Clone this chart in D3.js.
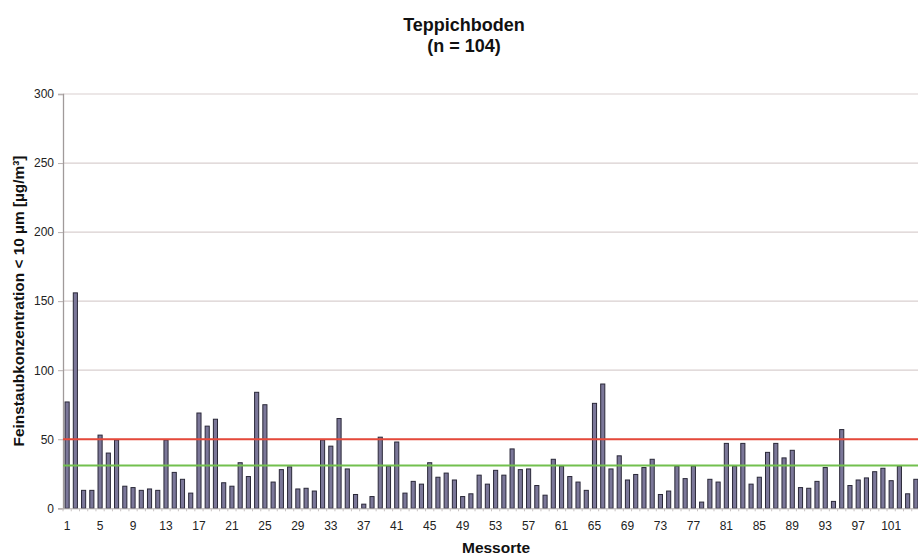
<!DOCTYPE html>
<html><head><meta charset="utf-8">
<script src="https://cdn.jsdelivr.net/npm/d3@7"></script>
<style>
html,body{margin:0;padding:0;background:#fff;}
svg{display:block;font-family:"Liberation Sans",Arial,sans-serif;}
</style></head>
<body>
<svg id="c" width="918" height="556"></svg>
<script>
const title = "Teppichboden";
const subtitle = "(n = 104)";
const yTitle = "Feinstaubkonzentration < 10 µm [µg/m³]";
const xTitle = "Messorte";
const categories = d3.range(1, 105);
const values = [
 77,156,13,13,53,40,49.5,16,15,13,14,13,49.5,26,21,11,69,59.5,64.5,18.5,
 16,33,23,84,75,19,28,30,14,14.5,12.5,49.5,45,65,28.5,10,3,8.5,51.5,30.5,
 48,11,19.5,17.5,33,22.5,25.5,20.5,8.5,10.5,24,17.5,27.5,24,43,28,28.5,16.5,9.5,35.5,
 30.5,23,19,13,76,90,28.5,38,20.5,24.5,29.5,35.5,10,12.5,30.5,21.5,30.5,4.5,21,19,
 47,30.5,47,17.5,22.5,40.5,47,36.5,42,15,14.5,19.5,29.5,5,57,16.5,20.5,22,26.5,29,
 20,30.5,10.5,21
];
const yTicks = [0, 50, 100, 150, 200, 250, 300];
const redLine = 50;
const greenLine = 31;

const svg = d3.select("#c");
const mLeft = 63, mRight = 920, mTop = 94, mBottom = 508.3;

const x = d3.scaleBand().domain(categories).range([mLeft, mRight]).paddingInner(0.5).paddingOuter(0.25);
const y = d3.scaleLinear().domain([0, 300]).range([mBottom, mTop]);

// gridlines
svg.append("g").selectAll("line").data(yTicks.filter(d => d > 0)).join("line")
  .attr("x1", mLeft).attr("x2", mRight)
  .attr("y1", d => y(d)).attr("y2", d => y(d))
  .attr("stroke", "#d9cfcf").attr("stroke-width", 1.2);

// y axis
const yAxis = svg.append("g").attr("transform", `translate(${mLeft},0)`)
  .call(d3.axisLeft(y).tickValues(yTicks).tickSize(5).tickPadding(4));
yAxis.select(".domain").attr("stroke", "#a09a9a").attr("stroke-width", 1.3);
yAxis.selectAll(".tick line").attr("stroke", "#b8b0b0");
yAxis.selectAll("text").attr("font-size", 12).attr("fill", "#222").attr("font-family", "Liberation Sans, Arial, sans-serif");

// bars
svg.append("g").selectAll("rect").data(values).join("rect")
  .attr("x", (d, i) => x(categories[i]))
  .attr("width", x.bandwidth())
  .attr("y", d => y(d))
  .attr("height", d => y(0) - y(d))
  .attr("fill", "#7b7799").attr("stroke", "#2a2838").attr("stroke-width", 1);

// x axis
const xAxis = svg.append("g").attr("transform", `translate(0,${mBottom})`)
  .call(d3.axisBottom(x).tickValues(categories.filter(c => (c - 1) % 4 === 0)).tickSize(0).tickPadding(13));
xAxis.select(".domain").attr("stroke", "#b0aaaa").attr("stroke-width", 1);
xAxis.selectAll("text").attr("font-size", 12).attr("fill", "#222").attr("font-family", "Liberation Sans, Arial, sans-serif");
// small category ticks
svg.append("g").selectAll("line").data(categories).join("line")
  .attr("x1", c => x(c) - x.step() * 0.25).attr("x2", c => x(c) - x.step() * 0.25)
  .attr("y1", mBottom).attr("y2", mBottom + 3)
  .attr("stroke", "#c8c2c2");

// reference lines
svg.append("line").attr("x1", mLeft).attr("x2", mRight)
  .attr("y1", y(redLine)).attr("y2", y(redLine))
  .attr("stroke", "#e5493a").attr("stroke-width", 2);
svg.append("line").attr("x1", mLeft).attr("x2", mRight)
  .attr("y1", y(greenLine)).attr("y2", y(greenLine))
  .attr("stroke", "#72c04e").attr("stroke-width", 2.2);

// titles
svg.append("text").attr("x", 464).attr("y", 31).attr("text-anchor", "middle")
  .attr("font-size", 18).attr("font-weight", "bold").attr("fill", "#111").text(title);
svg.append("text").attr("x", 464).attr("y", 52).attr("text-anchor", "middle")
  .attr("font-size", 18).attr("font-weight", "bold").attr("fill", "#111").text(subtitle);
svg.append("text").attr("transform", `translate(24,301) rotate(-90)`)
  .attr("text-anchor", "middle").attr("font-size", 15.4).attr("font-weight", "bold").attr("fill", "#111").text(yTitle);
svg.append("text").attr("x", 496).attr("y", 553).attr("text-anchor", "middle")
  .attr("font-size", 15.5).attr("font-weight", "bold").attr("fill", "#111").text(xTitle);
</script>
</body></html>
